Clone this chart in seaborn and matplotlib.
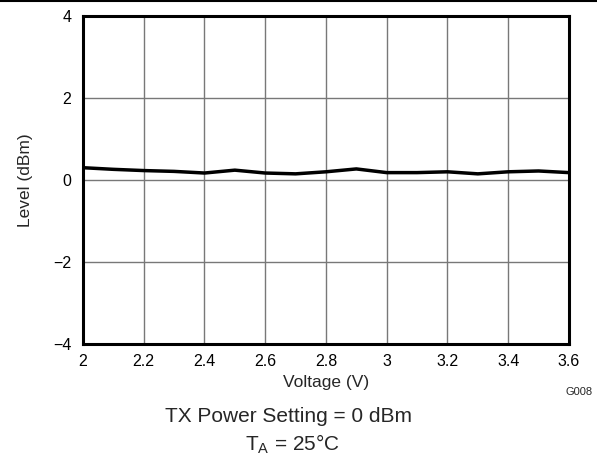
import matplotlib
matplotlib.use('Agg')
import matplotlib.pyplot as plt
import seaborn as sns
import pandas as pd
from matplotlib.lines import Line2D

voltage = [2.0, 2.1, 2.2, 2.3, 2.4, 2.5, 2.6, 2.7, 2.8, 2.9, 3.0, 3.1, 3.2, 3.3, 3.4, 3.5, 3.6]
level = [0.30, 0.26, 0.23, 0.21, 0.17, 0.24, 0.17, 0.15, 0.20, 0.27, 0.18, 0.18, 0.20, 0.15, 0.20, 0.22, 0.18]
x_ticks = [2, 2.2, 2.4, 2.6, 2.8, 3, 3.2, 3.4, 3.6]
x_labels = ['2', '2.2', '2.4', '2.6', '2.8', '3', '3.2', '3.4', '3.6']
y_ticks = [-4, -2, 0, 2, 4]
y_labels = ['\u22124', '\u22122', '0', '2', '4']

sns.set_style('white')
plt.rcParams['font.family'] = ['Liberation Sans', 'DejaVu Sans']

df = pd.DataFrame({'Voltage': voltage, 'Level': level})

fig = plt.figure(figsize=(5.97, 4.58), dpi=100)
ax = fig.add_axes([0.139, 0.249, 0.814, 0.716])
sns.lineplot(data=df, x='Voltage', y='Level', color='black', linewidth=2.5, ax=ax)

ax.set_xlim(2, 3.6)
ax.set_ylim(-4, 4)
ax.set_xticks(x_ticks)
ax.set_xticklabels(x_labels)
ax.set_yticks(y_ticks)
ax.set_yticklabels(y_labels)
ax.tick_params(axis='both', length=0, labelsize=11.5, colors='black')
ax.tick_params(axis='x', pad=7)
ax.tick_params(axis='y', pad=8.5)
ax.grid(True, color='#787878', linewidth=1)
for s in ax.spines.values():
    s.set_visible(True)
    s.set_color('black')
    s.set_linewidth(2.2)
ax.set_xlabel('Voltage (V)', fontsize=12.5)
ax.set_ylabel('Level (dBm)', fontsize=12.5)
ax.xaxis.set_label_coords(0.5, -0.094)
ax.yaxis.set_label_coords(-0.103, 0.5)

fig.text(0.992, 0.144, 'G008', fontsize=8, ha='right', va='center')
fig.text(0.484, 0.0786, 'TX Power Setting = 0 dBm', fontsize=15, ha='center', va='baseline')
fig.text(0.49, 0.0175, r'T$_\mathregular{A}$ = 25°C', fontsize=15, ha='center', va='baseline')
fig.add_artist(Line2D([0, 1], [0.997, 0.997], color='black', linewidth=1.5, transform=fig.transFigure))

plt.savefig('out.png', dpi=100)
plt.close()
